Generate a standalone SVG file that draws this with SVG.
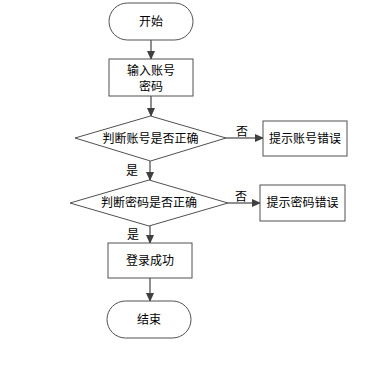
<svg xmlns="http://www.w3.org/2000/svg" width="392" height="366" viewBox="0 0 392 366">
<style>
.s{fill:#fff;stroke:#505050;stroke-width:1}
.t{font-family:"Liberation Sans","Noto Sans CJK SC",sans-serif;font-size:12px;fill:#000;text-anchor:middle;dominant-baseline:central}
.c{stroke:#6a6a6a;stroke-width:1.5;fill:none}
</style>
<defs>
<marker id="a" markerWidth="9" markerHeight="9" refX="8" refY="4" orient="auto" markerUnits="userSpaceOnUse">
<path d="M0,0 L9,4 L0,8 Z" fill="#404040"/>
</marker>
</defs>
<rect width="392" height="366" fill="#fff"/>
<g id="connectors">
<line class="c" x1="151" y1="40" x2="151" y2="59" marker-end="url(#a)"/>
<line class="c" x1="151" y1="96" x2="151" y2="116" marker-end="url(#a)"/>
<line class="c" x1="226" y1="138" x2="263" y2="138" marker-end="url(#a)"/>
<line class="c" x1="150" y1="161" x2="150" y2="180" marker-end="url(#a)"/>
<line class="c" x1="228" y1="203" x2="260" y2="203" marker-end="url(#a)"/>
<line class="c" x1="150" y1="226" x2="150" y2="243" marker-end="url(#a)"/>
<line class="c" x1="150" y1="278" x2="150" y2="301" marker-end="url(#a)"/>
<text class="t" x="242" y="132">否</text>
<text class="t" x="132" y="171">是</text>
<text class="t" x="241" y="197">否</text>
<text class="t" x="133" y="235">是</text>
</g>
<g id="start">
<rect class="s" x="109" y="3" width="84" height="37" rx="18.5"/>
<text class="t" x="151" y="21.5">开始</text>
</g>
<g id="input">
<rect class="s" x="109" y="59" width="84" height="37"/>
<text class="t" x="151" y="71">输入账号</text>
<text class="t" x="151" y="87">密码</text>
</g>
<g id="checkAccount">
<polygon class="s" points="75,138 150.5,116 226,138 150.5,161"/>
<text class="t" x="150.5" y="138.5">判断账号是否正确</text>
</g>
<g id="accountError">
<rect class="s" x="263" y="121" width="84" height="35"/>
<text class="t" x="305" y="138.5">提示账号错误</text>
</g>
<g id="checkPassword">
<polygon class="s" points="70,203 149,180 228,203 149,226"/>
<text class="t" x="149" y="203">判断密码是否正确</text>
</g>
<g id="passwordError">
<rect class="s" x="260" y="185" width="85" height="36"/>
<text class="t" x="302.5" y="203">提示密码错误</text>
</g>
<g id="success">
<rect class="s" x="108" y="243" width="84" height="35"/>
<text class="t" x="150" y="261">登录成功</text>
</g>
<g id="end">
<rect class="s" x="107" y="301" width="84" height="37" rx="18.5"/>
<text class="t" x="149" y="320">结束</text>
</g>
</svg>
